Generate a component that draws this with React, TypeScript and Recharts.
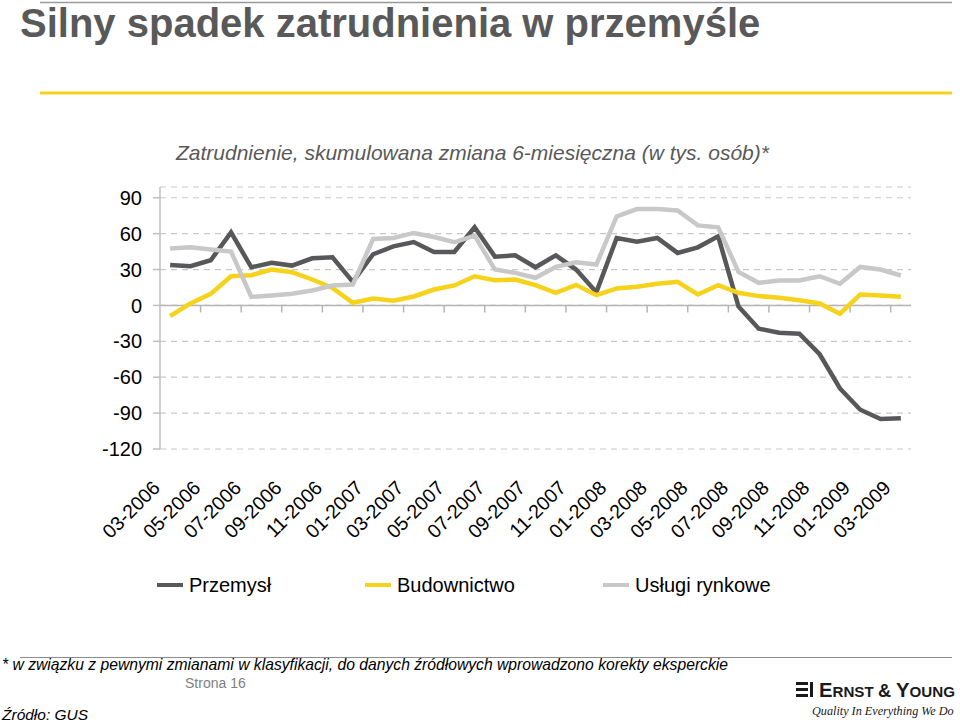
import React from 'react';
import { LineChart, Line, XAxis, YAxis, CartesianGrid, ReferenceLine, Legend } from 'recharts';

const labels = [
  '03-2006', '04-2006', '05-2006', '06-2006', '07-2006', '08-2006', '09-2006', '10-2006', '11-2006', '12-2006',
  '01-2007', '02-2007', '03-2007', '04-2007', '05-2007', '06-2007', '07-2007', '08-2007', '09-2007', '10-2007',
  '11-2007', '12-2007', '01-2008', '02-2008', '03-2008', '04-2008', '05-2008', '06-2008', '07-2008', '08-2008',
  '09-2008', '10-2008', '11-2008', '12-2008', '01-2009', '02-2009', '03-2009',
];

const przemysl = [
  33.9, 32.8, 37.8, 61, 31.9, 35.6, 33.3, 39.4, 40.3, 19.7,
  42.8, 49.4, 53, 44.7, 44.7, 65.3, 40.8, 41.9, 31.9, 41.9,
  30, 11.1, 56.4, 53.3, 56.4, 43.9, 48.6, 57.8, -0.8, -19.4,
  -22.8, -23.6, -40.8, -69.4, -87.2, -95, -94.2,
];

const budownictwo = [
  -8.9, 1.7, 9.7, 24.4, 25.3, 30, 27.8, 21.7, 14.7, 2.2,
  5.8, 3.9, 7.5, 13.3, 16.7, 24.4, 21.1, 21.7, 17, 10.6,
  17.2, 8.6, 14.2, 15.6, 18.1, 19.7, 9.2, 17, 10.6, 7.8,
  6.4, 4.4, 1.7, -6.9, 9.2, 8.3, 7.2,
];

const uslugi = [
  47.5, 48.6, 46.7, 45, 7.2, 8.3, 9.7, 12.5, 16.7, 17.5,
  55.6, 56.4, 60.6, 57.2, 52.8, 58.3, 30, 27.2, 23.1, 32.2,
  36.1, 34.2, 74.4, 80.6, 80.6, 79.4, 66.9, 65.3, 28, 18.9,
  20.8, 20.8, 24.4, 18.1, 32.2, 30, 25,
];

const yTicks = [-120, -90, -60, -30, 0, 30, 60, 90];

const seriesNames = ['Przemysł', 'Budownictwo', 'Usługi rynkowe'];
const seriesColors = ['#58585a', '#f6d21a', '#c8c8c8'];

const data = labels.map((label, i) => ({
  label,
  p: przemysl[i],
  b: budownictwo[i],
  u: uslugi[i],
}));

const FONT = '"Liberation Sans", Arial, sans-serif';

const XTick = (props: any) => {
  const { x, y, payload } = props;
  return (
    <g transform={`translate(${x},${y})`}>
      <text
        x={-9}
        y={32}
        textAnchor="end"
        transform="rotate(-45 -9 32)"
        fontSize={19.5}
        fontFamily={FONT}
        fill="#000"
      >
        {payload.value}
      </text>
    </g>
  );
};

const ZeroAxis = (props: any) => {
  const { x1, x2, y1 } = props;
  const n = labels.length;
  const w = (x2 - x1) / n;
  const ticks: number[] = [];
  for (let k = 2; k < n; k += 2) ticks.push(x1 + k * w);
  return (
    <g>
      <line x1={x1} y1={y1} x2={x2} y2={y1} stroke="#b5b5b5" strokeWidth={1.5} />
      {ticks.map((t) => (
        <line key={t} x1={t} x2={t} y1={y1} y2={y1 + 7} stroke="#b5b5b5" strokeWidth={1.5} />
      ))}
    </g>
  );
};

const legendX = [157, 365, 603];

const LegendContent = () => (
  <div style={{ position: 'relative', width: 960, height: 30 }}>
    {seriesNames.map((name, i) => (
      <div key={name}>
        <div
          style={{
            position: 'absolute',
            left: legendX[i],
            top: 13,
            width: 26,
            height: 4,
            background: seriesColors[i],
          }}
        />
        <div
          style={{
            position: 'absolute',
            left: legendX[i] + 32,
            top: 0,
            lineHeight: '30px',
            fontSize: 20,
            fontFamily: FONT,
            color: '#000',
            whiteSpace: 'nowrap',
          }}
        >
          {name}
        </div>
      </div>
    ))}
  </div>
);

export default function App() {
  return (
    <div style={{ position: 'absolute', left: 0, top: 0, width: 960, height: 722, background: '#fff', overflow: 'hidden' }}>
      <div style={{ position: 'absolute', left: 0, top: 0 }}>
        <LineChart width={960} height={722} data={data} margin={{ top: 187, right: 49, left: 100, bottom: 213 }}>
          <CartesianGrid vertical={false} stroke="#c8c8c8" strokeDasharray="6 5" strokeWidth={1.2} />
          <XAxis
            dataKey="label"
            scale="band"
            interval={1}
            axisLine={false}
            tickLine={false}
            height={60}
            tick={<XTick />}
          />
          <YAxis
            type="number"
            domain={[-120, 99]}
            ticks={yTicks}
            allowDataOverflow
            width={60}
            axisLine={{ stroke: '#bfbfbf', strokeWidth: 1.5 }}
            tickLine={{ stroke: '#bfbfbf', strokeWidth: 1.5 }}
            tickSize={7}
            tickMargin={11}
            tick={{ fill: '#000', fontSize: 20, fontFamily: FONT }}
          />
          <ReferenceLine y={0} shape={<ZeroAxis />} />
          <Line dataKey="p" name={seriesNames[0]} stroke={seriesColors[0]} strokeWidth={4.5} dot={false} isAnimationActive={false} strokeLinejoin="miter" />
          <Line dataKey="b" name={seriesNames[1]} stroke={seriesColors[1]} strokeWidth={4.5} dot={false} isAnimationActive={false} strokeLinejoin="miter" />
          <Line dataKey="u" name={seriesNames[2]} stroke={seriesColors[2]} strokeWidth={4.5} dot={false} isAnimationActive={false} strokeLinejoin="miter" />
          <Legend
            layout="vertical"
            align="center"
            verticalAlign="middle"
            content={<LegendContent />}
            wrapperStyle={{ left: 0, top: 570, width: 960, height: 30 }}
          />
        </LineChart>
      </div>
      <svg width={960} height={722} style={{ position: 'absolute', left: 0, top: 0, pointerEvents: 'none' }}>
        <line x1={40} y1={2.5} x2={952} y2={2.5} stroke="#9a9a9a" strokeWidth={1.5} />
        <text x={20} y={37} fontSize={40} fontWeight="bold" fontFamily={FONT} fill="#595959">
          Silny spadek zatrudnienia w przemyśle
        </text>
        <line x1={40} y1={93} x2={952} y2={93} stroke="#f6d21a" strokeWidth={3} />
        <text x={176} y={160} fontSize={21} fontStyle="italic" fontFamily={FONT} fill="#595959">
          Zatrudnienie, skumulowana zmiana 6-miesięczna (w tys. osób)*
        </text>
        <line x1={20} y1={657.5} x2={952} y2={657.5} stroke="#8c8c8c" strokeWidth={1.2} />
        <text x={2} y={670} fontSize={15.7} fontStyle="italic" fontFamily={FONT} fill="#000" textLength={726} lengthAdjust="spacingAndGlyphs">
          * w związku z pewnymi zmianami w klasyfikacji, do danych źródłowych wprowadzono korekty eksperckie
        </text>
        <text x={185} y={688} fontSize={14} fontFamily={FONT} fill="#7f7f7f">
          Strona 16
        </text>
        <text x={2} y={720} fontSize={15.5} fontStyle="italic" fontFamily={FONT} fill="#000">
          Źródło: GUS
        </text>
        <g fill="#1a1a1a">
          <rect x={796} y={682} width={12} height={3} />
          <rect x={796} y={688} width={12} height={3} />
          <rect x={796} y={694} width={12} height={3} />
          <rect x={810} y={682} width={3} height={15} />
        </g>
        <text x={819} y={697} fontFamily={FONT} fontWeight="bold" fill="#1a1a1a" textLength={136} lengthAdjust="spacingAndGlyphs">
          <tspan fontSize={20}>E</tspan>
          <tspan fontSize={15}>{'RNST '}</tspan>
          <tspan fontSize={18}>{'& '}</tspan>
          <tspan fontSize={20}>Y</tspan>
          <tspan fontSize={15}>OUNG</tspan>
        </text>
        <text x={812} y={715} fontSize={12.2} fontStyle="italic" fontFamily='"Liberation Serif", serif' fill="#1a1a1a">
          Quality In Everything We Do
        </text>
      </svg>
    </div>
  );
}
